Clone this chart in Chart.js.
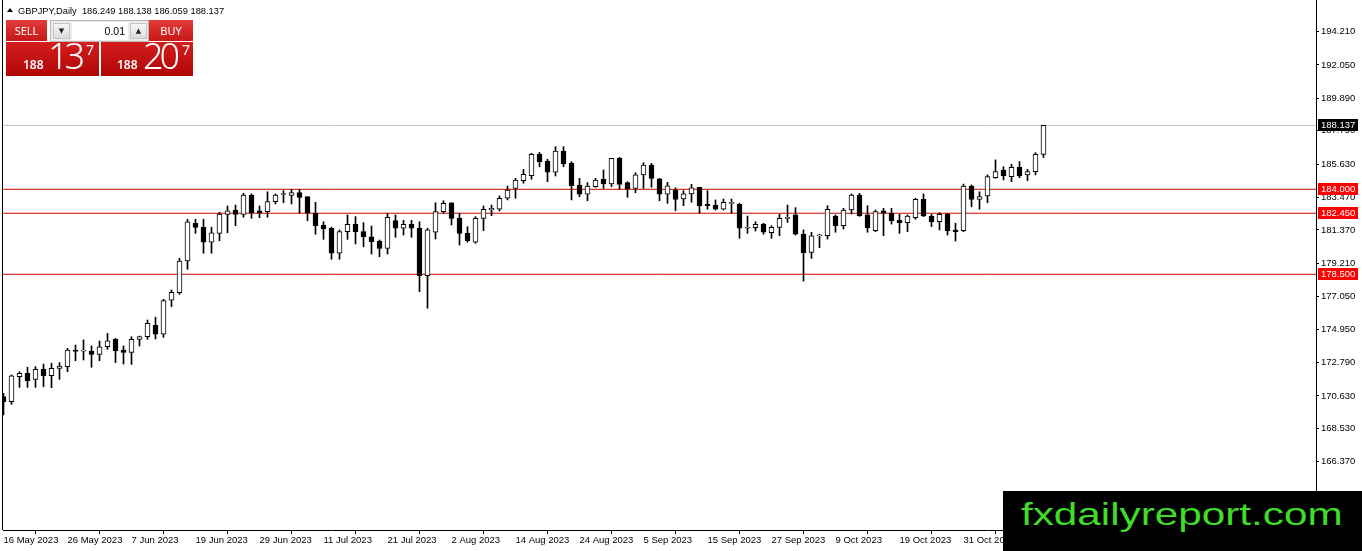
<!DOCTYPE html>
<html>
<head>
<meta charset="utf-8">
<script src="https://cdn.jsdelivr.net/npm/chart.js@4.4.0/dist/chart.umd.min.js"></script>
<style>
html, body { margin: 0; padding: 0; background: #fff; overflow: hidden; }
#wrap { position: relative; width: 1362px; height: 551px; }
#chart { position: absolute; left: 0; top: 0; }
.ov { position: absolute; }
#hdr { left: 18px; top: 5px; font: 9.3px/12px "Liberation Sans", sans-serif; color: #000; white-space: pre; }
#tri { left: 7px; top: 8px; width: 0; height: 0; border-left: 3px solid transparent; border-right: 3px solid transparent; border-bottom: 4px solid #000; }
.lbl { top: 20px; height: 21px; background: linear-gradient(#e23a3a, #c81818); color: #fff;
  font: 11px/21px "Noto Sans", sans-serif; text-align: center; }
#spin { left: 50px; top: 20px; width: 97px; height: 20px; background: #ececec; border: 1px solid #b8b8b8; }
.btn { position: absolute; top: 2px; width: 17px; height: 16px; background: linear-gradient(#f6f6f6, #dcdcdc);
  border: 1px solid #c4c4c4; box-sizing: border-box; font: 7px/14px "DejaVu Sans", sans-serif; text-align: center; color: #222; }
.inp { position: absolute; left: 21px; top: 1px; width: 56px; height: 18px; background: #fff;
  font: 10.5px/18px "Liberation Sans", sans-serif; text-align: right; color: #000; box-sizing: border-box; padding-right: 3px; }
.big { top: 42px; height: 34px; background: linear-gradient(#d41e1e, #b00606); color: #fff; font-family: "Noto Sans", sans-serif; }
.big span { position: absolute; white-space: nowrap; }
.big .s { font-size: 12px; line-height: 12px; font-weight: 600; top: 17px; }
.big .b { font-size: 36px; line-height: 36px; font-weight: 300; letter-spacing: -4px; top: -4px; }
.big .p { font-size: 14px; line-height: 14px; top: 1px; }
#wm { left: 1003px; top: 491px; width: 359px; height: 60px; background: #000; overflow: hidden; }
#wm span { position: absolute; left: 18px; top: 7px; font: 32px/32px "Liberation Sans", sans-serif; color: #3fdc2a;
  transform: scaleX(1.32); transform-origin: 0 0; white-space: nowrap; }
</style>
</head>
<body>
<div id="wrap">
  <canvas id="chart" width="1362" height="551"></canvas>
  <div class="ov" id="tri"></div>
  <div class="ov" id="hdr">GBPJPY,Daily  186.249 188.138 186.059 188.137</div>
  <div class="ov lbl" style="left:6px;width:41px;">SELL</div>
  <div class="ov" id="spin">
    <div class="btn" style="left:2px;">&#9660;</div>
    <div class="inp">0.01</div>
    <div class="btn" style="left:79px;">&#9650;</div>
  </div>
  <div class="ov lbl" style="left:149px;width:44px;">BUY</div>
  <div class="ov big" style="left:6px;width:93px;">
    <span class="s" style="left:17px;">188</span><span class="b" style="left:42px;">13</span><span class="p" style="left:80px;">7</span>
  </div>
  <div class="ov big" style="left:101px;width:92px;">
    <span class="s" style="left:16px;">188</span><span class="b" style="left:42px;">20</span><span class="p" style="left:81px;">7</span>
  </div>
  <div class="ov" id="wm"><span>fxdailyreport.com</span></div>
</div>
<script>
// GBPJPY daily bars, 16 May 2023 .. 14 Nov 2023
const opens = [
  170.58, 170.25, 171.87, 172.09, 171.70, 172.35, 171.94, 172.41, 172.52, 173.60,
  173.53, 173.53, 173.32, 173.81, 174.29, 173.60, 173.45, 174.29, 174.46, 175.20,
  174.63, 176.83, 177.31, 179.36, 181.80, 181.54, 180.57, 181.15, 182.38, 182.66,
  182.38, 183.63, 182.60, 182.55, 183.20, 183.66, 183.61, 183.78, 183.52, 182.45,
  181.69, 181.48, 179.86, 181.26, 181.73, 181.26, 180.93, 180.65, 180.18, 181.97,
  181.48, 181.73, 181.48, 178.41, 181.22, 182.55, 183.13, 182.12, 181.15, 180.57,
  182.12, 182.66, 182.71, 183.42, 184.06, 184.56, 184.88, 186.27, 185.83, 185.10,
  186.48, 185.68, 184.28, 183.68, 184.17, 184.65, 184.34, 186.00, 184.43, 184.06,
  184.93, 185.57, 184.67, 183.68, 183.95, 183.37, 183.70, 184.13, 183.03, 182.98,
  182.71, 183.09, 183.03, 181.48, 181.51, 181.75, 181.19, 181.54, 182.12, 182.34,
  181.09, 179.92, 180.98, 181.00, 182.27, 181.64, 182.66, 183.63, 182.34, 181.32,
  182.60, 182.45, 181.99, 181.84, 182.16, 183.35, 182.27, 181.90, 182.40, 181.37,
  181.32, 184.21, 183.35, 183.57, 184.75, 185.25, 184.82, 185.42, 184.93, 185.14,
  186.249
];
const highs = [
  170.80, 171.98, 172.19, 172.48, 172.52, 172.69, 172.74, 172.78, 173.71, 173.92,
  174.25, 173.86, 174.18, 174.68, 174.36, 173.86, 174.46, 174.50, 175.54, 175.72,
  176.88, 177.48, 179.53, 182.06, 182.06, 182.06, 181.54, 182.51, 182.92, 182.98,
  183.74, 183.70, 182.92, 183.84, 183.70, 183.91, 184.00, 184.00, 183.52, 183.16,
  181.90, 181.54, 181.37, 182.34, 182.23, 181.84, 181.62, 180.72, 182.45, 182.34,
  181.99, 181.99, 181.90, 181.48, 183.13, 183.26, 183.13, 182.45, 181.58, 182.23,
  182.92, 182.98, 183.57, 184.21, 184.71, 185.29, 186.33, 186.39, 185.94, 186.76,
  186.76, 185.79, 184.71, 184.43, 184.71, 185.25, 186.00, 186.07, 184.49, 185.07,
  185.72, 185.68, 184.71, 184.45, 184.10, 183.91, 184.32, 184.13, 183.91, 183.31,
  183.37, 183.37, 183.09, 182.27, 181.90, 181.80, 181.64, 182.38, 182.98, 182.81,
  181.37, 181.22, 181.09, 182.94, 182.34, 182.77, 183.70, 183.74, 182.94, 182.66,
  182.77, 182.77, 182.38, 182.34, 183.42, 183.70, 182.38, 182.49, 182.45, 181.80,
  184.34, 184.28, 183.84, 184.93, 185.90, 185.46, 185.62, 185.79, 185.29, 186.37,
  188.138
];
const lows = [
  169.39, 170.08, 171.18, 171.18, 171.18, 171.22, 171.16, 171.70, 172.19, 172.91,
  172.95, 172.48, 172.91, 173.64, 172.78, 172.69, 172.67, 173.86, 174.29, 174.31,
  174.42, 176.40, 177.20, 178.82, 181.15, 179.86, 179.86, 180.67, 181.19, 181.64,
  182.19, 182.12, 182.16, 182.19, 183.05, 183.13, 183.05, 182.45, 181.97, 181.09,
  180.76, 179.47, 179.47, 180.76, 180.46, 180.28, 179.81, 179.64, 179.81, 180.89,
  181.04, 180.89, 177.37, 176.30, 180.78, 182.45, 181.69, 180.39, 180.57, 180.50,
  181.32, 182.29, 182.60, 183.31, 183.42, 184.39, 184.65, 185.46, 184.49, 184.86,
  185.46, 183.31, 183.52, 183.26, 184.13, 184.06, 184.17, 184.00, 183.48, 183.78,
  184.06, 184.13, 183.26, 183.09, 182.61, 182.94, 183.16, 182.45, 182.71, 182.66,
  182.66, 182.45, 180.83, 181.15, 181.30, 181.09, 180.83, 181.00, 181.86, 181.04,
  178.06, 179.53, 180.22, 180.78, 181.22, 181.43, 182.40, 182.25, 181.22, 181.26,
  181.00, 181.75, 181.15, 181.26, 182.06, 182.23, 181.58, 181.37, 181.04, 180.65,
  181.26, 182.87, 182.71, 183.13, 184.71, 184.60, 184.49, 184.75, 184.56, 184.93,
  186.059
];
const closes = [
  170.25, 171.92, 172.09, 171.61, 172.35, 171.94, 172.41, 172.56, 173.60, 173.50,
  173.55, 173.32, 173.81, 174.20, 173.55, 173.45, 174.29, 174.46, 175.33, 174.63,
  176.79, 177.33, 179.36, 181.90, 181.54, 180.57, 181.19, 182.40, 182.61, 182.38,
  183.63, 182.49, 182.45, 183.20, 183.63, 183.70, 183.78, 183.48, 182.45, 181.64,
  181.43, 179.86, 181.26, 181.73, 181.26, 180.93, 180.61, 180.18, 182.19, 181.48,
  181.73, 181.48, 178.41, 181.37, 182.55, 183.09, 182.12, 181.15, 180.67, 182.12,
  182.71, 182.77, 183.42, 183.95, 184.60, 184.97, 186.27, 185.79, 185.10, 186.48,
  185.64, 184.23, 183.68, 184.21, 184.60, 184.34, 186.00, 184.32, 184.02, 184.93,
  185.57, 184.71, 183.68, 184.23, 183.35, 183.70, 184.10, 182.94, 182.94, 182.71,
  183.16, 183.16, 181.48, 181.54, 181.73, 181.22, 181.54, 182.12, 182.19, 181.09,
  179.90, 180.98, 181.04, 182.71, 181.64, 182.66, 183.63, 182.29, 181.51, 182.55,
  182.45, 181.97, 181.84, 182.27, 183.35, 182.27, 181.90, 182.38, 181.32, 181.26,
  184.21, 183.35, 183.52, 184.82, 185.14, 184.88, 185.42, 184.86, 185.14, 186.27,
  188.137
];

// bottom axis: bar index of each date label
const dateTicks = [0, 8, 16, 24, 32, 40, 48, 56, 64, 72, 80, 88, 96, 104, 112, 120, 128];
const dateLabels = ['16 May 2023', '26 May 2023', '7 Jun 2023', '19 Jun 2023', '29 Jun 2023',
  '11 Jul 2023', '21 Jul 2023', '2 Aug 2023', '14 Aug 2023', '24 Aug 2023', '5 Sep 2023',
  '15 Sep 2023', '27 Sep 2023', '9 Oct 2023', '19 Oct 2023', '31 Oct 2023', '10 Nov 2023'];

// right axis ticks
const priceTicks = [194.210, 192.050, 189.890, 187.790, 185.630, 183.470, 181.370,
  179.210, 177.050, 174.950, 172.790, 170.630, 168.530, 166.370];

// horizontal levels
const levels = [184.000, 182.450, 178.500];
const lastPrice = 188.137;

const fontAxis = { family: 'Liberation Sans', size: 9.5 };

const bodyData = opens.map((o, i) => ({ x: i, y: [o, closes[i]] }));
const wickData = lows.map((l, i) => ({ x: i, y: [l, highs[i]] }));
const bodyColors = opens.map((o, i) => closes[i] >= o ? '#ffffff' : '#000000');

const levelSets = levels.map(v => ({
  type: 'line',
  data: [{ x: -5, y: v }, { x: 170, y: v }],
  borderColor: '#d00000',
  borderWidth: 1,
  pointRadius: 0,
  order: 3
}));

// price tags on the right axis
const tagPlugin = {
  id: 'tags',
  afterDraw(chart) {
    const ctx = chart.ctx;
    const y = chart.scales.y;
    const area = chart.chartArea;
    ctx.save();
    // left frame line
    ctx.strokeStyle = '#000';
    ctx.lineWidth = 1;
    ctx.beginPath();
    ctx.moveTo(2.5, 0);
    ctx.lineTo(2.5, area.bottom);
    ctx.stroke();

    ctx.font = '9.5px "Liberation Sans"';
    ctx.textBaseline = 'middle';
    const tags = [{ v: lastPrice, bg: '#000' }].concat(levels.map(v => ({ v: v, bg: '#ff0000' })));
    tags.forEach(t => {
      const py = Math.round(y.getPixelForValue(t.v));
      ctx.fillStyle = t.bg;
      ctx.fillRect(area.right + 2, py - 6, 40, 12);
      ctx.fillStyle = '#fff';
      ctx.fillText(t.v.toFixed(3), area.right + 5, py + 0.5);
    });
    ctx.restore();
  }
};

new Chart(document.getElementById('chart'), {
  type: 'bar',
  data: {
    datasets: [
      {
        type: 'bar',
        data: bodyData,
        backgroundColor: bodyColors,
        borderColor: '#000',
        borderWidth: 1,
        borderSkipped: false,
        barThickness: 5,
        minBarLength: 1,
        grouped: false,
        order: 1
      },
      {
        type: 'bar',
        data: wickData,
        backgroundColor: '#000',
        borderWidth: 0,
        barThickness: 1,
        grouped: false,
        order: 2
      },
      {
        type: 'line',
        data: [{ x: -5, y: lastPrice }, { x: 170, y: lastPrice }],
        borderColor: '#c0c0c0',
        borderWidth: 1,
        pointRadius: 0,
        order: 4
      }
    ].concat(levelSets)
  },
  options: {
    responsive: false,
    animation: false,
    layout: { padding: { left: 3, top: 0, right: 0, bottom: 0 } },
    plugins: { legend: { display: false }, tooltip: { enabled: false } },
    scales: {
      x: {
        type: 'linear',
        min: -0.0625,
        max: 164.0625,
        bounds: 'data',
        offset: false,
        grid: { display: true, drawOnChartArea: false, tickLength: 4, color: '#000' },
        border: { display: true, color: '#000' },
        afterBuildTicks: s => { s.ticks = dateTicks.map(v => ({ value: v })); },
        afterFit: s => { s.height = 21; s.paddingLeft = 0; s.paddingRight = 0; },
        ticks: {
          autoSkip: false, maxRotation: 0, align: 'start', padding: 1, color: '#000', font: fontAxis,
          callback: (v, i) => dateLabels[i]
        }
      },
      y: {
        type: 'linear',
        position: 'right',
        min: 161.95,
        max: 196.25,
        bounds: 'data',
        grid: { display: true, drawOnChartArea: false, tickLength: 3, color: '#000' },
        border: { display: true, color: '#000' },
        afterBuildTicks: s => { s.ticks = priceTicks.map(v => ({ value: v })); },
        afterFit: s => { s.width = 46; s.paddingTop = 0; s.paddingBottom = 0; },
        ticks: { padding: 2, color: '#000', font: fontAxis, callback: v => v.toFixed(3) }
      }
    }
  },
  plugins: [tagPlugin]
});
</script>
</body>
</html>
